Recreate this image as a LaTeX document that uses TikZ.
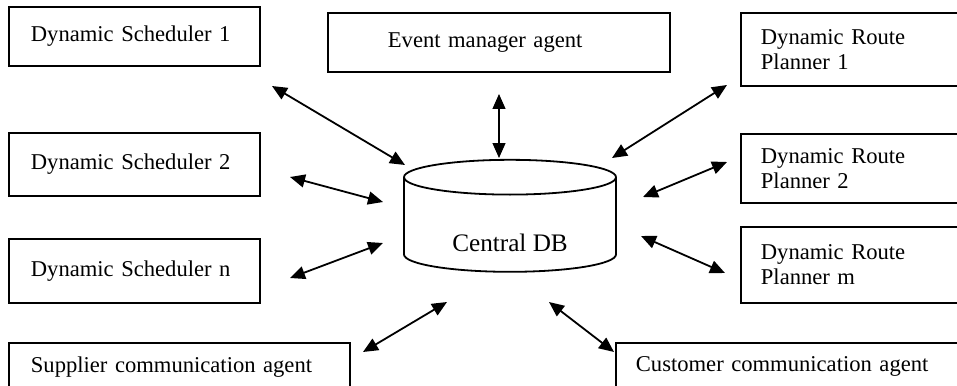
\documentclass[tikz,border=0pt]{standalone}
\usepackage{fontspec}
\setmainfont{Liberation Serif}
\usetikzlibrary{shapes.geometric}
\usetikzlibrary{arrows.meta}

\tikzset{
  agent/.style={draw, line width=0.9pt, anchor=north west, align=left, inner xsep=11pt, inner ysep=0pt, font=\fontsize{11.3}{12.5}\selectfont},
  store/.style={shape=cylinder, shape border rotate=90, draw, line width=0.9pt, aspect=0.27, font=\fontsize{12.6}{14}\selectfont},
  link/.style={line width=0.9pt, {Triangle[length=7.5pt,width=6.5pt]}-{Triangle[length=7.5pt,width=6.5pt]}},
}

\begin{document}
\begin{tikzpicture}[x=0.5pt, y=-0.5pt]
 \useasboundingbox (0,0) rectangle (957,385);
 \clip (0,0) rectangle (957,385);

 \node (ds1) [agent, text width=103.5pt, minimum height=29.5pt] at (8,6) {Dynamic Scheduler 1};
 \node (ds2) [agent, text width=103.5pt, minimum height=31.5pt] at (8,132) {Dynamic Scheduler 2};
 \node (dsn) [agent, text width=103.5pt, minimum height=32pt] at (8,238) {Dynamic Scheduler n};
 \node (sup) [agent, text width=148.5pt, minimum height=24pt] at (8,342) {Supplier communication agent};

 \node (evt) [agent, inner xsep=30pt, text width=111pt, minimum height=29.5pt] at (327,12) {Event manager agent};

 \node (drp1) [agent, inner xsep=10pt, text width=100pt, minimum height=36.5pt] at (740,12) {Dynamic Route\\Planner 1};
 \node (drp2) [agent, inner xsep=10pt, text width=100pt, minimum height=34.5pt] at (740,133) {Dynamic Route\\Planner 2};
 \node (drpm) [agent, inner xsep=10pt, text width=100pt, minimum height=38pt] at (740,226) {Dynamic Route\\Planner m};
 \node (cus) [agent, inner xsep=10pt, text width=160pt, minimum height=24pt] at (615,342) {Customer communication agent};

 \node (db) [store, minimum width=106pt, minimum height=56pt, text height=24pt] at (510,228) {Central DB};

 % arrow ends
 \coordinate (ds1-p) at (272,86);   \coordinate (db-ds1) at (405,165);
 \coordinate (ds2-p) at (290,177);  \coordinate (db-ds2) at (383,202);
 \coordinate (dsn-p) at (290,278);  \coordinate (db-dsn) at (383,243);
 \coordinate (sup-p) at (363,352);  \coordinate (db-sup) at (447,302);
 \coordinate (evt-p) at (499,94);   \coordinate (db-evt) at (499,158);
 \coordinate (drp1-p) at (727,85);  \coordinate (db-drp1) at (612,158);
 \coordinate (drp2-p) at (727,162); \coordinate (db-drp2) at (643,197);
 \coordinate (drpm-p) at (725,273); \coordinate (db-drpm) at (641,236);
 \coordinate (cus-p) at (614,352);  \coordinate (db-cus) at (549,302);

 \draw [link] (ds1-p) -- (db-ds1);
 \draw [link] (ds2-p) -- (db-ds2);
 \draw [link] (dsn-p) -- (db-dsn);
 \draw [link] (sup-p) -- (db-sup);
 \draw [link, line width=0.6pt] (evt-p) -- (db-evt);
 \draw [link] (drp1-p) -- (db-drp1);
 \draw [link] (drp2-p) -- (db-drp2);
 \draw [link] (drpm-p) -- (db-drpm);
 \draw [link] (cus-p) -- (db-cus);
\end{tikzpicture}
\end{document}
